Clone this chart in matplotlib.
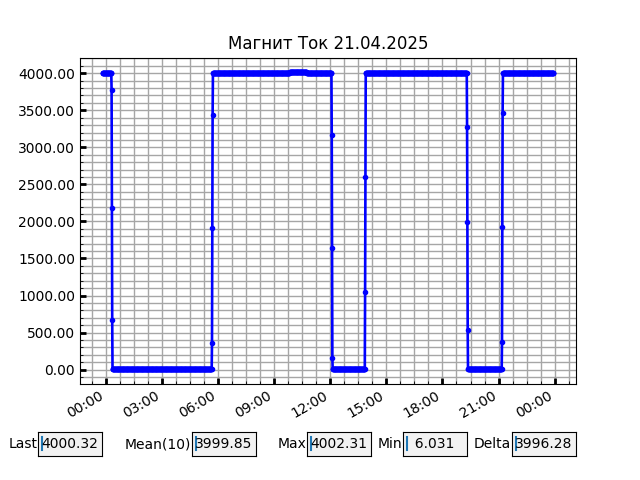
import matplotlib
matplotlib.use("Agg")
import matplotlib.pyplot as plt
import matplotlib.dates as mdates
from matplotlib.ticker import AutoMinorLocator, FormatStrFormatter
import pandas as pd

# ---- data ----
title = "Магнит Ток 21.04.2025"

# flat (constant) periods, sampled every minute
level_start = ["2025-04-20 23:50", "2025-04-21 00:22", "2025-04-21 05:44", "2025-04-21 09:50",
               "2025-04-21 10:45", "2025-04-21 12:08", "2025-04-21 13:54", "2025-04-21 19:22",
               "2025-04-21 21:14"]
level_end = ["2025-04-21 00:18", "2025-04-21 05:40", "2025-04-21 09:49", "2025-04-21 10:44",
             "2025-04-21 12:04", "2025-04-21 13:51", "2025-04-21 19:18", "2025-04-21 21:10",
             "2025-04-21 23:56"]
level_value = [4000, 6, 4000, 4011, 4000, 6, 4000, 6, 4000]

# intermediate readings during switching
ramp_times = ["2025-04-21 00:19", "2025-04-21 00:20", "2025-04-21 00:21",
              "2025-04-21 05:41", "2025-04-21 05:42", "2025-04-21 05:43",
              "2025-04-21 12:05", "2025-04-21 12:06", "2025-04-21 12:07",
              "2025-04-21 13:52", "2025-04-21 13:53",
              "2025-04-21 19:19", "2025-04-21 19:20", "2025-04-21 19:21",
              "2025-04-21 21:11", "2025-04-21 21:12", "2025-04-21 21:13"]
ramp_values = [3780, 2180, 670,
               360, 1910, 3440,
               3165, 1640, 157,
               1046, 2595,
               3268, 1998, 540,
               368, 1922, 3470]

box_labels = ["Last", "Mean(10)", "Max", "Min", "Delta"]
box_values = ["4000.32", "3999.85", "4002.31", "  6.031", "3996.28"]
box_x = [0.06, 0.30, 0.48, 0.63, 0.80]

# ---- build series ----
parts = []
for s, e, v in zip(level_start, level_end, level_value):
    idx = pd.date_range(s, e, freq="1min")
    parts.append(pd.Series(v, index=idx, dtype=float))
parts.append(pd.Series(ramp_values, index=pd.to_datetime(ramp_times), dtype=float))
series = pd.concat(parts).sort_index()

fig = plt.figure(figsize=(6.4, 4.8), dpi=100)
ax = fig.add_subplot(111)
ax.plot(series.index.to_pydatetime(), series.values, "b.-", lw=1.9)
ax.set_title(title)

ax.xaxis.set_major_locator(mdates.HourLocator(byhour=range(0, 24, 3)))
ax.xaxis.set_major_formatter(mdates.DateFormatter("%H:%M"))
ax.xaxis.set_minor_locator(AutoMinorLocator(4))
ax.yaxis.set_major_formatter(FormatStrFormatter("%.2f"))
ax.yaxis.set_minor_locator(AutoMinorLocator(5))
ax.grid(which="both", color="0.65", lw=1)
ax.tick_params(which="both", direction="in")
ax.tick_params(which="major", width=2, length=4)
fig.autofmt_xdate()

for lab, val, x0 in zip(box_labels, box_values, box_x):
    bax = fig.add_axes([x0, 0.05, 0.1, 0.05])
    bax.set_facecolor("0.95")
    bax.set_xticks([])
    bax.set_yticks([])
    bax.set_xlim(0, 1)
    bax.set_ylim(0, 1)
    bax.text(-0.01, 0.5, lab, ha="right", va="center", transform=bax.transAxes)
    bax.text(0.05, 0.5, val, ha="left", va="center", transform=bax.transAxes)
    bax.plot([0.055, 0.055], [0.26, 0.8], color="C0", lw=1.5)

fig.savefig("out.png", dpi=100)
